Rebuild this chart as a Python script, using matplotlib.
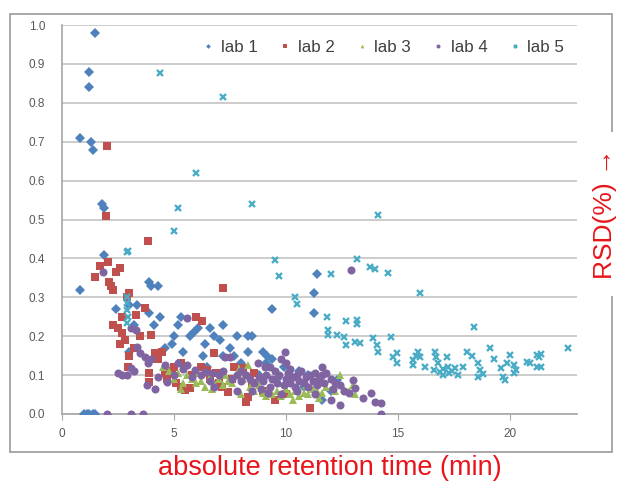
import matplotlib.pyplot as plt
from matplotlib.patches import Rectangle

# values (retention time in min, RSD)
lab1_x = [1.5, 1.2, 1.2, 0.8, 1.3, 1.4, 1.8, 1.9, 0.8, 1.9, 1.0, 1.1, 1.2, 1.4, 1.5,
          3.9, 4.0, 4.3, 2.4, 3.35, 3.9, 4.4, 4.1, 3.0, 3.2, 3.0,
          5.0, 4.9, 4.6, 5.2, 5.4, 5.7, 5.9, 6.1, 6.4, 6.6, 6.8, 7.2, 7.05, 7.5,
          7.8, 8.3, 8.5, 8.3, 7.7, 7.2, 9.15, 9.4, 9.1, 9.9, 9.4, 11.4, 11.25, 11.25,
          10.2, 10.6, 11.0, 11.6, 12.3, 8.0, 8.8, 6.3, 5.3, 9.6, 10.8, 12.0, 6.5, 9.0]
lab1_y = [0.98, 0.88, 0.84, 0.71, 0.70, 0.68, 0.54, 0.53, 0.32, 0.41, 0.0, 0.0, 0.0, 0.0, 0.0,
          0.34, 0.33, 0.33, 0.27, 0.28, 0.26, 0.25, 0.23, 0.28, 0.23, 0.16,
          0.20, 0.18, 0.17, 0.23, 0.16, 0.20, 0.21, 0.22, 0.18, 0.22, 0.20, 0.23, 0.19, 0.17,
          0.20, 0.20, 0.20, 0.16, 0.15, 0.15, 0.15, 0.14, 0.13, 0.12, 0.27, 0.36, 0.31, 0.26,
          0.10, 0.11, 0.10, 0.035, 0.087, 0.13, 0.10, 0.15, 0.25, 0.09, 0.07, 0.06, 0.12, 0.16]

lab2_x = [2.0, 1.96, 3.84, 7.2, 1.5, 1.7, 2.05, 2.4, 2.6, 2.2, 2.3, 2.1, 3.0, 2.9, 3.3,
          3.7, 2.7, 2.3, 2.5, 2.7, 2.8, 2.6, 4.0, 3.0, 3.2, 4.15, 4.45, 3.9, 3.9, 4.6,
          4.3, 5.3, 5.3, 5.5, 5.7, 5.1, 4.9, 6.0, 6.25, 6.8, 6.5, 6.9, 6.2, 5.8, 7.15,
          7.4, 7.0, 7.7, 8.1, 8.2, 8.3, 8.6, 8.5, 9.5, 9.0, 10.0, 11.1, 7.6, 6.6, 5.0,
          4.7, 3.5, 2.95]
lab2_y = [0.69, 0.51, 0.445, 0.323, 0.353, 0.38, 0.39, 0.365, 0.375, 0.33, 0.32, 0.34, 0.31, 0.30, 0.255,
          0.272, 0.25, 0.23, 0.22, 0.208, 0.19, 0.18, 0.203, 0.15, 0.17, 0.156, 0.16, 0.105, 0.083, 0.105,
          0.14, 0.13, 0.07, 0.062, 0.067, 0.08, 0.11, 0.25, 0.24, 0.156, 0.113, 0.105, 0.12, 0.10, 0.07,
          0.057, 0.08, 0.12, 0.117, 0.03, 0.044, 0.105, 0.08, 0.036, 0.06, 0.05, 0.015, 0.09, 0.09, 0.12,
          0.09, 0.20, 0.12]

lab3_x = [4.5, 4.8, 5.0, 5.2, 5.4, 5.6, 5.8, 6.0, 6.2, 6.4, 6.6, 6.8, 7.0, 7.2, 7.4,
          7.6, 7.9, 8.1, 8.3, 8.4, 8.6, 8.8, 9.0, 9.2, 9.4, 9.6, 9.8, 10.0, 10.2, 10.4,
          10.6, 10.8, 11.0, 11.2, 11.4, 11.6, 11.8, 12.0, 12.2, 12.4, 12.6, 12.8, 13.0, 13.1,
          6.1, 7.3, 8.9, 9.7, 10.9, 5.3, 6.7, 8.0, 9.1, 10.3, 11.5]
lab3_y = [0.12, 0.11, 0.09, 0.105, 0.08, 0.10, 0.09, 0.08, 0.085, 0.07, 0.095, 0.08, 0.09, 0.075, 0.085,
          0.08, 0.115, 0.09, 0.125, 0.07, 0.06, 0.075, 0.055, 0.065, 0.05, 0.06, 0.045, 0.065, 0.05, 0.06,
          0.045, 0.055, 0.05, 0.065, 0.06, 0.055, 0.07, 0.09, 0.06, 0.10, 0.065, 0.06, 0.075, 0.05,
          0.105, 0.10, 0.09, 0.08, 0.075, 0.065, 0.065, 0.05, 0.045, 0.035, 0.04]

lab4_x = [2.0, 3.1, 3.6, 14.25, 12.9, 1.85, 2.5, 2.7, 2.9, 3.1, 3.2, 3.3, 3.1, 3.35, 3.5,
          3.7, 3.85, 3.8, 4.15, 4.3, 4.7, 4.6, 4.0,
          5.6, 5.2, 5.6, 5.95, 6.4, 6.7, 7.3, 7.5, 8.75, 9.05, 9.95, 9.8, 10.0,
          5.0, 5.4, 5.8, 6.2, 6.6, 7.0, 7.2, 7.6, 7.8, 8.0, 8.2, 8.4, 8.6, 8.8, 9.0,
          9.1, 9.3, 9.4, 9.5, 9.6, 9.7, 9.9, 10.0, 10.1, 10.2, 10.3, 10.4, 10.5, 10.6,
          10.7, 10.8, 10.9, 11.0, 11.1, 11.2, 11.3, 11.4, 11.5, 11.6, 11.7, 11.8, 12.0,
          12.1, 12.2, 12.4, 12.6, 12.8, 12.4, 12.0, 13.0, 13.1, 13.45, 13.8, 14.0, 14.25,
          8.5, 9.2, 10.5, 11.3, 7.8, 6.8, 9.8, 8.9, 8.0, 10.2, 11.6, 9.3]
lab4_y = [0.0, 0.0, 0.0, 0.0, 0.37, 0.365, 0.105, 0.10, 0.10, 0.118, 0.11, 0.216, 0.22, 0.173, 0.157,
          0.147, 0.13, 0.075, 0.064, 0.095, 0.083, 0.125, 0.14,
          0.247, 0.13, 0.126, 0.113, 0.108, 0.105, 0.147, 0.147, 0.13, 0.12, 0.16, 0.14, 0.13,
          0.10, 0.115, 0.095, 0.10, 0.085, 0.10, 0.11, 0.09, 0.10, 0.085, 0.10, 0.09, 0.08, 0.095, 0.085,
          0.10, 0.07, 0.09, 0.11, 0.08, 0.10, 0.075, 0.09, 0.105, 0.08, 0.095, 0.07, 0.10, 0.085,
          0.11, 0.08, 0.095, 0.07, 0.10, 0.085, 0.105, 0.075, 0.09, 0.10, 0.08, 0.105, 0.09,
          0.065, 0.08, 0.075, 0.06, 0.053, 0.023, 0.036, 0.087, 0.067, 0.04, 0.053, 0.03, 0.028,
          0.06, 0.055, 0.06, 0.05, 0.06, 0.07, 0.05, 0.065, 0.11, 0.115, 0.12, 0.12]

lab5_x = [4.4, 7.2, 6.0, 5.2, 8.5, 5.0, 2.95, 2.9, 2.9, 2.9, 2.9, 2.95, 2.9, 9.5, 9.7,
          10.4, 10.5, 14.1, 13.2, 13.75, 14.0, 14.55, 12.0, 11.85, 12.7, 13.2, 13.2, 11.9, 11.9, 12.3,
          12.6, 12.7, 13.1, 13.3, 13.9, 14.05, 14.1, 14.7, 14.8, 14.95, 14.95, 16.0, 18.4, 22.6,
          15.7, 15.7, 15.9, 16.0, 16.65, 16.7, 16.8, 16.6, 16.9, 17.0, 17.2, 17.25, 17.3, 17.55,
          17.7, 17.9, 18.1, 18.3, 18.6, 18.65, 18.6, 18.8, 19.1, 19.3, 19.6, 19.7, 19.8, 20.0,
          19.9, 20.2, 20.2, 20.3, 20.75, 20.9, 21.2, 21.4, 21.2, 21.4, 21.3, 17.0, 17.4, 16.2, 15.8]
lab5_y = [0.876, 0.815, 0.62, 0.53, 0.54, 0.47, 0.42, 0.417, 0.30, 0.285, 0.267, 0.25, 0.235, 0.396, 0.355,
          0.30, 0.283, 0.512, 0.398, 0.378, 0.372, 0.362, 0.36, 0.25, 0.24, 0.242, 0.231, 0.216, 0.203, 0.203,
          0.198, 0.177, 0.185, 0.182, 0.195, 0.177, 0.16, 0.198, 0.147, 0.157, 0.13, 0.31, 0.223, 0.17,
          0.139, 0.126, 0.16, 0.147, 0.16, 0.147, 0.13, 0.113, 0.108, 0.10, 0.147, 0.12, 0.105, 0.117,
          0.10, 0.12, 0.16, 0.15, 0.13, 0.113, 0.095, 0.102, 0.17, 0.14, 0.117, 0.095, 0.087, 0.152,
          0.13, 0.126, 0.105, 0.113, 0.134, 0.13, 0.152, 0.154, 0.12, 0.12, 0.147, 0.115, 0.11, 0.12, 0.15]

labels = ['lab 1', 'lab 2', 'lab 3', 'lab 4', 'lab 5']
x_ticks = [0, 5, 10, 15, 20]
y_ticks = [0.0, 0.1, 0.2, 0.3, 0.4, 0.5, 0.6, 0.7, 0.8, 0.9, 1.0]

plt.rcParams['font.family'] = ['Liberation Sans', 'DejaVu Sans']

fig = plt.figure(figsize=(6.19, 4.83), dpi=100)
ax = fig.add_axes([0.100, 0.143, 0.832, 0.805])

# outer chart frame
fig.patches.append(Rectangle((10 / 619, 1 - 452 / 483), 602 / 619, 438 / 483,
                             transform=fig.transFigure, fill=False,
                             edgecolor='#999999', linewidth=1.2, zorder=0))

series = [
    (lab1_x, lab1_y, 'D', '#4f81bd', 4.8),
    (lab2_x, lab2_y, 's', '#c0504d', 5.4),
    (lab3_x, lab3_y, '^', '#9bbb59', 5.4),
    (lab4_x, lab4_y, 'o', '#8064a2', 5.8),
]
for (xs, ys, m, c, ms), lab in zip(series, labels[:4]):
    ax.plot(xs, ys, linestyle='none', marker=m, color=c, markersize=ms,
            markeredgewidth=0, label=lab, zorder=3)
ax.plot(lab5_x, lab5_y, linestyle='none', marker='x', color='#4bacc6',
        markersize=4.2, markeredgewidth=1.7, label=labels[4], zorder=4)

ax.set_xlim(0, 23)
ax.set_ylim(0, 1.0)
ax.set_xticks(x_ticks)
ax.set_yticks(y_ticks)
ax.set_yticklabels([f'{v:.1f}' for v in y_ticks])
ax.yaxis.grid(True, color='#c8c8c8', linewidth=1.3)
ax.set_axisbelow(True)
for s in ['top', 'right']:
    ax.spines[s].set_visible(False)
ax.spines['left'].set_color('#a6a6a6')
ax.spines['bottom'].set_color('#a6a6a6')
ax.spines['left'].set_linewidth(1.2)
ax.spines['bottom'].set_linewidth(1.2)
ax.tick_params(axis='y', length=0, pad=12, labelsize=8.5, labelcolor='#595959')
ax.tick_params(axis='x', length=4, pad=6, labelsize=8.5, labelcolor='#595959',
               color='#a6a6a6')

leg = ax.legend(loc='upper right', bbox_to_anchor=(1.005, 1.0), ncol=5,
                frameon=False, fontsize=12.2, markerscale=0.5, handletextpad=0.25,
                columnspacing=1.1, handlelength=1.0)
for t in leg.get_texts():
    t.set_color('#404040')

fig.text(0.533, 0.031, 'absolute retention time (min)', color='#e8141a',
         fontsize=19.5, ha='center', va='center')
fig.text(0.978, 0.557, 'RSD(%) \u2192', color='#e8141a', fontsize=19,
         rotation=90, ha='center', va='center',
         bbox=dict(facecolor='white', edgecolor='none', pad=12))

fig.savefig('out.png', dpi=100)
